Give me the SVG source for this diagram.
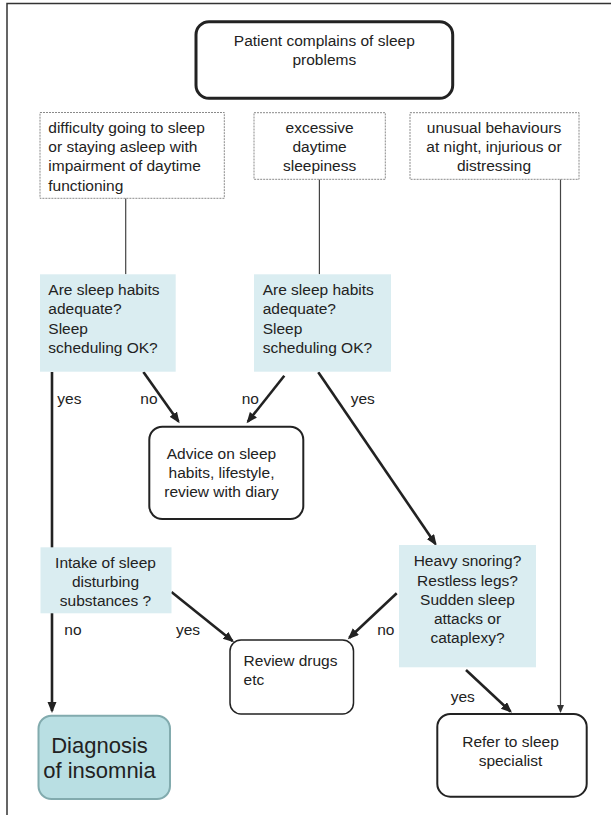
<svg xmlns="http://www.w3.org/2000/svg" width="611" height="815" viewBox="0 0 611 815">
<defs>
<style>
text{font-family:"Liberation Sans",Arial,sans-serif;font-size:15.5px;fill:#222}
.c{text-anchor:middle}
.dash{fill:#fff;stroke:#8a8a8a;stroke-width:1;stroke-dasharray:2 1}
.q{fill:#daedf1;stroke:none}
.thin{stroke:#444;stroke-width:1.2;fill:none}
.thick{stroke:#222;stroke-width:2.6;fill:none}
</style>
<marker id="ah" markerUnits="userSpaceOnUse" markerWidth="12" markerHeight="10" refX="9" refY="4.5" orient="auto">
<path d="M0,0 L11,4.5 L0,9 z" fill="#222"/>
</marker>
<marker id="ahs" markerUnits="userSpaceOnUse" markerWidth="9" markerHeight="8" refX="7" refY="3.5" orient="auto">
<path d="M0,0 L8,3.5 L0,7 z" fill="#333"/>
</marker>
</defs>
<rect width="611" height="815" fill="#fff"/>
<path d="M7,815 V3.5 H611" fill="none" stroke="#333" stroke-width="1.5"/>

<g id="connectors">
<line class="thin" x1="125.7" y1="198.3" x2="125.7" y2="274.3"/>
<line class="thin" x1="319.4" y1="179.3" x2="319.4" y2="274.3"/>
<line class="thin" x1="560.5" y1="179.3" x2="560.5" y2="712" marker-end="url(#ahs)"/>
<line class="thick" x1="52" y1="372" x2="52" y2="711" marker-end="url(#ah)"/>
<line class="thick" x1="143.4" y1="372" x2="178.5" y2="421.5" marker-end="url(#ah)"/>
<line class="thick" x1="284.3" y1="375.7" x2="247.8" y2="421.8" marker-end="url(#ah)"/>
<line class="thick" x1="318.3" y1="372.3" x2="435.5" y2="544" marker-end="url(#ah)"/>
<line class="thick" x1="171.5" y1="592" x2="232.5" y2="641" marker-end="url(#ah)"/>
<line class="thick" x1="396.7" y1="593.3" x2="349.3" y2="637.8" marker-end="url(#ah)"/>
<line class="thick" x1="466" y1="670" x2="510.5" y2="711.5" marker-end="url(#ah)"/>
<text x="57.3" y="404">yes</text>
<text x="140.3" y="404">no</text>
<text x="241.7" y="404">no</text>
<text x="350.7" y="404">yes</text>
<text x="64.3" y="634.5">no</text>
<text x="176" y="634.5">yes</text>
<text x="377.2" y="634.5">no</text>
<text x="450.7" y="702">yes</text>
</g>

<g id="start">
<rect x="196" y="21.7" width="256.7" height="76.6" rx="13" fill="#fff" stroke="#222" stroke-width="3"/>
<text class="c" x="324.3" y="45.5">Patient complains of sleep</text>
<text class="c" x="324.3" y="65">problems</text>
</g>

<g id="symptom1">
<rect class="dash" x="40" y="112.5" width="184.3" height="85.8"/>
<text x="48.3" y="133">difficulty going to sleep</text>
<text x="48.3" y="152">or staying asleep with</text>
<text x="48.3" y="171">impairment of daytime</text>
<text x="48.3" y="190.5">functioning</text>
</g>

<g id="symptom2">
<rect class="dash" x="254" y="112.7" width="131.3" height="66.6"/>
<text class="c" x="319.6" y="133">excessive</text>
<text class="c" x="319.6" y="152">daytime</text>
<text class="c" x="319.6" y="171">sleepiness</text>
</g>

<g id="symptom3">
<rect class="dash" x="410" y="112.7" width="169" height="66.6"/>
<text class="c" x="494" y="133">unusual behaviours</text>
<text class="c" x="494" y="152">at night, injurious or</text>
<text class="c" x="494" y="171">distressing</text>
</g>

<g id="habits1">
<rect class="q" x="40" y="274.3" width="135.7" height="97.4"/>
<text x="48.3" y="295">Are sleep habits</text>
<text x="48.3" y="314">adequate?</text>
<text x="48.3" y="333.5">Sleep</text>
<text x="48.3" y="353">scheduling OK?</text>
</g>

<g id="habits2">
<rect class="q" x="254" y="274.3" width="137" height="97.4"/>
<text x="262.7" y="295">Are sleep habits</text>
<text x="262.7" y="314">adequate?</text>
<text x="262.7" y="333.5">Sleep</text>
<text x="262.7" y="353">scheduling OK?</text>
</g>

<g id="advice">
<rect x="149.3" y="426.7" width="154" height="92.3" rx="13" fill="#fff" stroke="#222" stroke-width="2"/>
<text class="c" x="221.5" y="458.5">Advice on sleep</text>
<text class="c" x="221.5" y="477.5">habits, lifestyle,</text>
<text class="c" x="221.5" y="497">review with diary</text>
</g>

<g id="intake">
<rect class="q" x="40.5" y="547.3" width="131" height="66"/>
<text class="c" x="105.5" y="568">Intake of sleep</text>
<text class="c" x="105.5" y="587">disturbing</text>
<text class="c" x="105.5" y="606">substances ?</text>
</g>

<g id="heavy">
<rect class="q" x="399" y="545" width="137" height="122.3"/>
<text class="c" x="467.5" y="566">Heavy snoring?</text>
<text class="c" x="467.5" y="585.5">Restless legs?</text>
<text class="c" x="467.5" y="605">Sudden sleep</text>
<text class="c" x="467.5" y="624">attacks or</text>
<text class="c" x="467.5" y="643">cataplexy?</text>
</g>

<g id="review">
<rect x="230" y="640" width="123.5" height="74" rx="11" fill="#fff" stroke="#222" stroke-width="1.5"/>
<text x="243.6" y="665.5">Review drugs</text>
<text x="243.6" y="684.5">etc</text>
</g>

<g id="refer">
<rect x="437.3" y="714" width="149.4" height="82.7" rx="13" fill="#fff" stroke="#222" stroke-width="2"/>
<text class="c" x="510.5" y="747">Refer to sleep</text>
<text class="c" x="510.5" y="766">specialist</text>
</g>

<g id="diagnosis">
<rect x="38.5" y="715.7" width="131.5" height="83.3" rx="13" fill="#b9dfe3" stroke="#82abae" stroke-width="2"/>
<text class="c" x="99.5" y="753" style="font-size:22px">Diagnosis</text>
<text class="c" x="99.5" y="778" style="font-size:22px">of insomnia</text>
</g>
</svg>
